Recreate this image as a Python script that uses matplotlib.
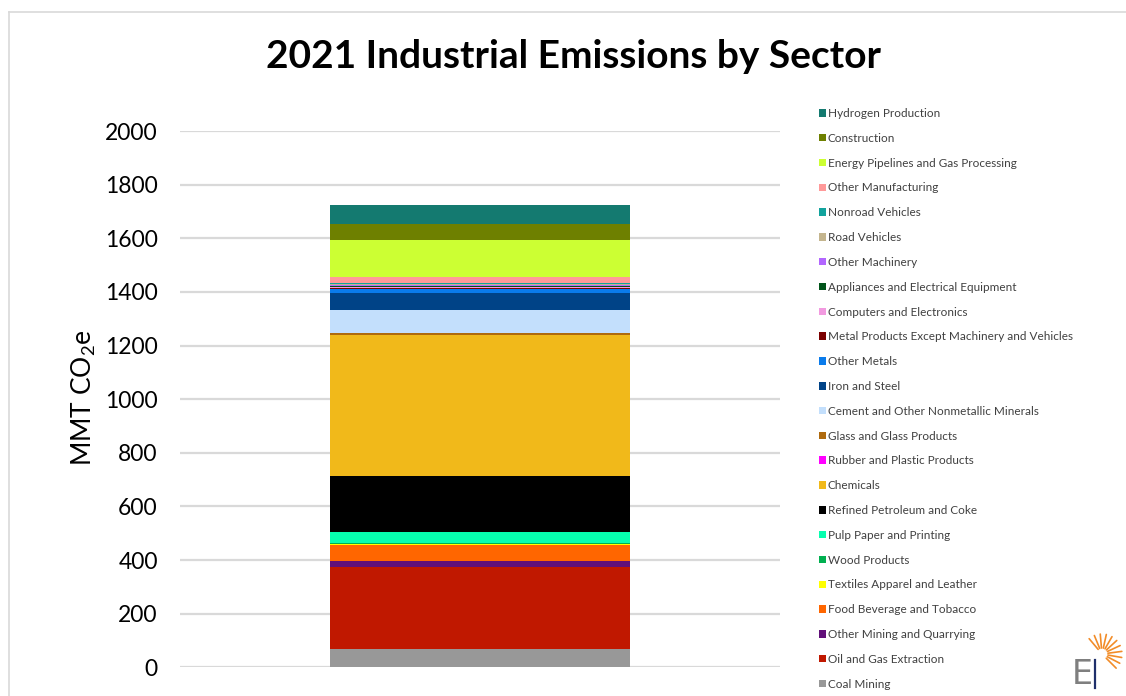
import numpy as np
import matplotlib
matplotlib.use("Agg")
import matplotlib.pyplot as plt
from matplotlib.patches import Patch
from matplotlib.lines import Line2D

# Sectors listed bottom-to-top of the stack
sectors = [
    "Coal Mining", "Oil and Gas Extraction", "Other Mining and Quarrying",
    "Food Beverage and Tobacco", "Textiles Apparel and Leather", "Wood Products",
    "Pulp Paper and Printing", "Refined Petroleum and Coke", "Chemicals",
    "Rubber and Plastic Products", "Glass and Glass Products",
    "Cement and Other Nonmetallic Minerals", "Iron and Steel", "Other Metals",
    "Metal Products Except Machinery and Vehicles", "Computers and Electronics",
    "Appliances and Electrical Equipment", "Other Machinery", "Road Vehicles",
    "Nonroad Vehicles", "Other Manufacturing", "Energy Pipelines and Gas Processing",
    "Construction", "Hydrogen Production",
]
emissions = [68, 306, 22, 60, 5, 4, 38, 209, 526, 2, 7, 86, 64, 14,
             5, 3, 3, 5, 4, 3, 22, 139, 59, 71]
colors = [
    "#989898", "#C01800", "#611079", "#FF6600", "#FFFF00", "#00B050",
    "#06FFAF", "#000000", "#F1B91A", "#FF00FF", "#AF6A0E", "#C3DFFC",
    "#004387", "#0A7BEB", "#7B0000", "#F29AE0", "#00541A", "#B266FF",
    "#C4B58E", "#12A39D", "#FF9999", "#CCFF33", "#6E8000", "#147A70",
]
y_ticks = [0, 200, 400, 600, 800, 1000, 1200, 1400, 1600, 1800, 2000]

FONT = "Lato"
plt.rcParams["font.family"] = [FONT, "DejaVu Sans"]
plt.rcParams["mathtext.fontset"] = "custom"
plt.rcParams["mathtext.rm"] = FONT
plt.rcParams["mathtext.it"] = FONT

W, H = 1126, 696
fig = plt.figure(figsize=(W / 100, H / 100), dpi=100)
fig.patch.set_facecolor("white")

# plot area
x0, x1 = 180, 780
y_top, y_bot = 131, 667.3
ax = fig.add_axes([x0 / W, 1 - y_bot / H, (x1 - x0) / W, (y_bot - y_top) / H])
ax.set_xlim(-1, 1)
ax.set_ylim(0, 2000)

bottom = 0
handles = []
for name, val, col in zip(sectors, emissions, colors):
    ax.bar(0, val, width=1.0, bottom=bottom, color=col, edgecolor="none", zorder=3)
    bottom += val
    handles.append(Patch(facecolor=col, edgecolor="none", label=name))

ax.set_yticks(y_ticks)
ax.set_yticklabels([str(t) for t in y_ticks], fontsize=16.5, color="#000000")
ax.tick_params(axis="y", length=0, pad=16)
ax.set_xticks([])
ax.yaxis.grid(True, color="#d9d9d9", linewidth=1.6, zorder=0)
ax.set_axisbelow(True)
for s in ax.spines.values():
    s.set_visible(False)
ax.set_ylabel("MMT CO$_2$e", fontsize=19, color="#000000")
ax.yaxis.set_label_coords(-(x0 - 98) / (x1 - x0), (y_bot - 398) / (y_bot - y_top))

fig.text(573 / W, 1 - 57 / H, "2021 Industrial Emissions by Sector",
         ha="center", va="center", fontsize=28, fontweight="bold", color="#000000")

leg = fig.legend(handles=handles[::-1], loc="upper left",
                 bbox_to_anchor=(819 / W, 1 - 108 / H), frameon=False,
                 fontsize=8.5, handlelength=0.6, handleheight=0.6,
                 handletextpad=0.15, labelspacing=1.17, borderpad=0, borderaxespad=0)
for t in leg.get_texts():
    t.set_color("#404040")

# outer frame lines
fig.add_artist(Line2D([9 / W, 1.0], [1 - 12 / H, 1 - 12 / H], color="#d9d9d9", lw=1.2,
                      transform=fig.transFigure))
fig.add_artist(Line2D([9 / W, 9 / W], [0, 1 - 12 / H], color="#d9d9d9", lw=1.2,
                      transform=fig.transFigure))

# small EI mark in the corner
cx, cy = 1102, 654
for ang in np.linspace(-45, 130, 11):
    a = np.deg2rad(ang)
    r0, r1 = 6, 20
    fig.add_artist(Line2D([(cx + r0 * np.cos(a)) / W, (cx + r1 * np.cos(a)) / W],
                          [1 - (cy - r0 * np.sin(a)) / H, 1 - (cy - r1 * np.sin(a)) / H],
                          color="#F28C28", lw=1.2, solid_capstyle="round",
                          transform=fig.transFigure))
fig.text(1072 / W, 1 - 674 / H, "E", fontsize=24, color="#7f7f7f", ha="left", va="center",
         family="DejaVu Sans")
fig.add_artist(Line2D([1095 / W, 1095 / W], [1 - 660 / H, 1 - 688 / H], color="#1F2F6B",
                      lw=1.6, transform=fig.transFigure))

fig.savefig("out.png", dpi=100, facecolor="white")
